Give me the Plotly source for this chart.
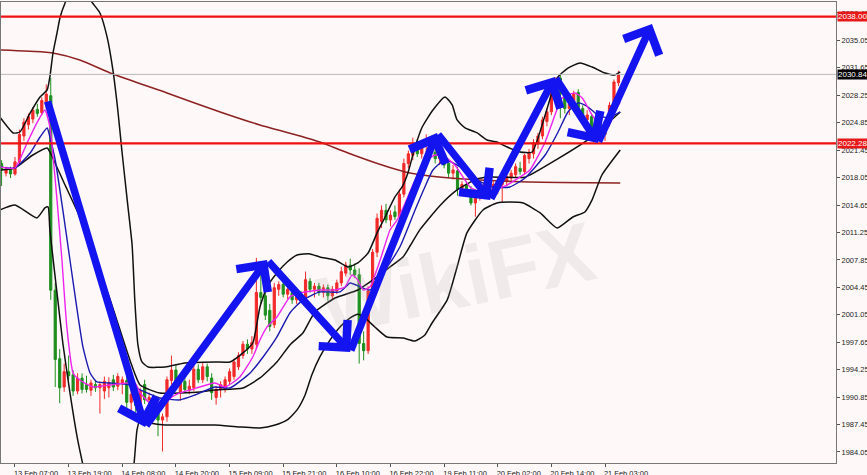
import plotly.graph_objects as go

# ---------------- data ----------------
bar_index = list(range(139))
opens = [2019.8,2018.6,2019.1,2018.5,2020.0,2023.2,2024.6,2025.3,2026.5,2026.1,2027.2,2028.2,2004.1,1995.6,1992.1,1994.0,1993.6,1991.6,1993.2,1992.4,
         1991.7,1992.4,1992.0,1991.6,1992.0,1993.0,1992.2,1992.6,1992.9,1990.2,1991.2,1989.8,1992.4,1990.5,1990.6,1989.3,1988.0,1988.4,1992.9,1994.2,
         1991.4,1992.8,1991.8,1992.0,1994.3,1993.0,1994.6,1993.2,1990.8,1991.8,1991.8,1992.8,1993.4,1994.6,1996.0,1997.4,1996.8,1997.4,2003.8,2003.4,
         2001.6,1999.8,2004.2,2004.8,2003.6,2003.8,2002.9,2003.4,2003.2,2005.2,2004.2,2004.6,2003.8,2004.4,2003.4,2004.0,2005.0,2006.2,2007.2,2006.6,
         2006.0,1997.5,1996.6,2004.0,2008.8,2012.6,2014.0,2012.8,2013.8,2013.2,2016.0,2019.8,2020.8,2022.3,2021.0,2022.0,2022.6,2021.2,2020.4,2020.8,
         2019.8,2018.6,2018.9,2016.6,2017.2,2016.4,2014.9,2016.0,2016.4,2017.2,2016.6,2016.6,2017.2,2017.6,2018.0,2018.4,2019.2,2018.8,2020.4,2021.0,
         2022.2,2023.2,2025.0,2026.2,2028.6,2030.4,2028.4,2026.6,2027.0,2028.6,2026.6,2025.2,2025.6,2024.2,2024.6,2023.4,2024.9,2027.0,2029.8]
highs = [2020.2,2019.4,2019.4,2020.6,2024.0,2025.4,2026.0,2026.8,2027.2,2028.0,2029.6,2030.4,2005.0,1996.8,1995.0,1996.0,1994.2,1993.8,1993.8,1993.5,
         1993.0,1993.0,1992.8,1993.4,1993.3,1993.6,1993.8,1993.4,1993.6,1991.8,1992.2,1992.0,1993.0,1991.4,1991.2,1989.8,1988.8,1993.4,1996.0,1994.8,
         1993.4,1993.6,1993.0,1994.8,1994.9,1995.2,1995.0,1993.8,1992.2,1992.8,1993.4,1994.4,1995.6,1996.4,1997.8,1998.0,1998.4,2008.1,2006.4,2005.6,
         2002.4,2005.0,2005.2,2005.4,2004.6,2004.4,2003.8,2004.0,2006.4,2005.6,2005.0,2005.0,2004.8,2004.8,2004.6,2005.4,2007.0,2007.6,2008.0,2007.4,
         2006.8,1999.0,2004.6,2009.2,2013.6,2014.6,2014.8,2014.0,2014.6,2016.6,2020.4,2021.4,2023.0,2022.8,2022.6,2023.4,2023.2,2022.2,2021.6,2021.2,
         2020.4,2019.6,2019.4,2017.6,2017.6,2017.0,2016.6,2017.0,2017.8,2017.8,2017.6,2018.0,2018.2,2018.6,2019.0,2019.8,2020.0,2021.0,2021.6,2022.8,
         2023.6,2025.6,2026.6,2029.4,2030.5,2030.8,2029.0,2027.8,2028.8,2029.0,2027.0,2026.4,2026.0,2025.0,2025.0,2025.2,2027.4,2030.2,2031.3]
lows = [2017.0,2018.2,2018.0,2018.3,2019.6,2022.6,2024.0,2024.8,2025.6,2025.8,2026.6,2002.9,1992.1,1990.1,1991.5,1993.0,1991.0,1991.2,1991.3,1991.4,
        1991.0,1991.5,1988.8,1990.6,1990.8,1991.6,1991.7,1991.2,1989.5,1988.6,1989.0,1989.2,1990.0,1989.0,1989.0,1986.0,1984.1,1987.8,1992.4,1992.3,
        1990.4,1991.4,1991.2,1991.6,1992.6,1992.6,1992.8,1990.5,1989.9,1990.8,1991.4,1992.4,1993.0,1994.2,1995.6,1996.2,1996.2,1996.8,2002.4,2000.4,
        1999.0,1999.4,2003.4,2003.2,2003.0,2002.4,2002.4,2002.6,2002.8,2003.8,2003.2,2003.4,2003.2,2002.8,2003.0,2003.6,2004.6,2005.8,2006.0,2005.6,
        1995.0,1995.4,1996.2,2003.6,2008.2,2011.8,2012.4,2012.0,2012.8,2012.8,2015.6,2019.2,2020.2,2020.6,2020.4,2021.2,2020.8,2019.8,2019.6,2019.2,
        2018.0,2017.8,2015.8,2016.0,2015.8,2014.6,2013.2,2015.2,2015.8,2016.0,2015.8,2016.0,2015.0,2017.0,2017.4,2018.0,2018.4,2018.4,2019.8,2020.4,
        2021.6,2022.8,2024.4,2025.8,2027.6,2025.4,2026.0,2025.8,2026.4,2025.6,2024.8,2024.6,2023.6,2023.0,2022.8,2022.6,2024.4,2026.6,2029.4]
closes = [2019.0,2019.1,2018.5,2020.0,2023.4,2024.9,2025.6,2026.4,2026.0,2027.6,2028.4,2004.1,1995.5,1992.0,1994.0,1993.5,1991.6,1993.2,1991.8,1991.8,
          1992.6,1992.0,1992.4,1992.8,1992.6,1992.1,1993.4,1993.0,1990.2,1991.2,1989.8,1991.6,1990.5,1990.8,1989.3,1988.0,1988.4,1993.0,1994.2,1992.7,
          1992.8,1991.8,1992.2,1994.3,1993.0,1994.6,1993.4,1991.4,1991.8,1992.4,1993.0,1994.0,1995.2,1996.0,1997.4,1996.8,1997.6,2003.8,2003.2,2001.0,
          1999.6,2004.4,2004.8,2003.6,2004.2,2002.9,2003.4,2003.0,2005.4,2004.2,2004.6,2003.8,2004.4,2003.4,2004.2,2005.0,2006.4,2007.2,2006.6,2006.0,
          1997.5,1996.6,2004.0,2008.8,2013.0,2014.0,2012.8,2013.4,2013.2,2016.0,2019.8,2021.0,2022.3,2021.0,2022.0,2022.6,2021.2,2020.4,2021.0,2019.6,
          2018.6,2019.0,2016.6,2017.2,2016.2,2014.9,2016.0,2016.4,2017.2,2016.6,2017.2,2017.6,2017.8,2018.2,2018.6,2019.4,2018.8,2020.8,2021.2,2022.4,
          2023.2,2025.2,2026.2,2029.0,2029.4,2028.4,2026.6,2027.2,2028.4,2025.9,2025.2,2025.8,2024.2,2024.6,2023.4,2024.9,2027.0,2029.9,2030.84]

tick_bars = [3, 15, 27, 39, 51, 63, 75, 87, 99, 111, 123, 135]
tick_labels = ["13 Feb 07:00", "13 Feb 19:00", "14 Feb 08:00", "14 Feb 20:00",
               "15 Feb 09:00", "15 Feb 21:00", "16 Feb 10:00", "16 Feb 22:00",
               "19 Feb 11:00", "20 Feb 02:00", "20 Feb 14:00", "21 Feb 03:00"]
price_ticks = [1984.05, 1987.45, 1990.85, 1994.25, 1997.65, 2001.05, 2004.45, 2007.85,
               2011.25, 2014.65, 2018.05, 2021.45, 2024.85, 2028.25, 2031.65, 2035.05, 2038.45]

# Bollinger bands (bar, price)
upper_band = [(-0.4,2025.56),(2.6,2023.58),(4.1,2023.70),(6.4,2026.06),(8.6,2028.04),(10.2,2028.91),(10.8,2030.52),
              (11.5,2033.49),(12.4,2035.97),(13.1,2037.95),(14.2,2039.69),(15.8,2041.55),(17.1,2042.17),(18.7,2041.55),
              (20.2,2039.81),(22.0,2038.45),(23.6,2035.48),(24.9,2031.39),(26.0,2026.43),(26.9,2021.47),(28.1,2015.28),
              (29.2,2009.70),(29.8,2002.89),(30.5,1997.31),(31.4,1995.20),(32.8,1994.58),(36.6,1994.58),(41.0,1995.08),
              (47.7,1995.20),(51.1,1995.20),(54.0,1996.32),(56.2,1997.55),(57.8,2002.02),(59.4,2004.50),(61.6,2006.23),
              (63.9,2007.59),(66.1,2008.46),(69.0,2008.59),(71.2,2008.21),(74.6,2007.84),(77.5,2006.97),(79.7,2007.47),
              (82.0,2008.71),(84.0,2011.19),(85.8,2013.17),(88.0,2015.65),(89.6,2016.89),(90.9,2018.62),(92.5,2021.84),
              (94.1,2024.32),(96.5,2026.43),(99.2,2028.04),(100.8,2027.05),(101.9,2025.19),(103.7,2024.20),(106.4,2023.58),
              (108.6,2022.71),(110.8,2022.46),(113.1,2021.84),(116.0,2021.22),(118.7,2021.22),(121.6,2025.81),(124.3,2030.39),
              (126.7,2031.63),(129.4,2032.25),(132.1,2031.76),(135.0,2031.01),(137.2,2030.77),(138.4,2031.14)]
middle_band = [(-0.4,2018.99),(3.0,2019.24),(7.0,2020.85),(10.2,2021.72),(10.8,2021.22),(14.2,2017.13),(17.5,2013.17),
               (24.3,2002.89),(28.7,1995.45),(31.0,1992.35),(35.4,1991.36),(44.4,1991.48),(47.7,1991.73),(54.0,1991.98),
               (57.8,1993.22),(61.6,1995.20),(64.5,1997.31),(67.4,1998.79),(70.1,2001.40),(74.6,2003.13),(79.7,2004.12),
               (84.0,2005.74),(86.9,2006.97),(89.8,2008.20),(91.4,2009.60),(93.6,2011.60),(98.1,2014.60),(101.9,2016.52),
               (106.4,2017.90),(108.6,2018.10),(112.2,2018.10),(117.1,2018.10),(124.5,2020.40),(132.1,2023.10),(138.4,2026.18)]
lower_band = [(-0.4,2014.04),(3.0,2014.66),(7.9,2013.05),(9.7,2014.29),(10.4,2014.41),(10.8,2011.56),(12.4,2003.75),
              (13.7,1997.55),(15.3,1991.36),(16.9,1985.91),(18.2,1982.44),(20.9,1975.90),(23.1,1971.70),(24.9,1970.20),
              (26.9,1974.30),(28.3,1978.60),(29.6,1982.44),(30.3,1986.78),(31.0,1988.02),(33.2,1987.64),(36.6,1987.39),
              (42.6,1987.39),(47.7,1987.39),(53.3,1987.14),(57.8,1987.02),(61.2,1987.39),(63.9,1988.02),(66.1,1989.26),
              (67.9,1991.11),(69.4,1993.59),(71.2,1995.82),(73.5,1997.93),(75.7,1999.54),(78.0,2000.65),(79.7,2001.10),
              (81.3,2000.65),(83.5,1999.54),(86.2,1998.30),(89.8,1998.17),(92.5,1997.80),(94.7,1998.55),(96.3,2000.03),
              (99.7,2002.89),(101.9,2006.97),(104.1,2011.19),(107.7,2014.04),(110.8,2014.90),(113.7,2015.03),(116.7,2014.90),
              (120.5,2013.67),(124.3,2011.81),(127.8,2013.17),(130.5,2013.79),(132.1,2015.28),(134.3,2018.37),(138.4,2021.47)]
fast_ma = [(-0.4,2019.37),(3.0,2019.24),(5.7,2022.34),(7.9,2024.82),(9.7,2026.43),(10.8,2024.32),(12.4,2015.28),
           (13.5,2007.84),(14.6,1999.54),(16.0,1993.84),(17.5,1992.97),(20.5,1992.10),(24.3,1992.35),(29.8,1992.60),
           (31.0,1991.36),(33.2,1990.12),(36.6,1990.12),(38.1,1990.86),(39.9,1991.36),(42.2,1991.73),(47.7,1992.60),
           (50.0,1992.10),(53.3,1993.34),(56.2,1995.82),(57.8,1997.93),(59.4,1999.54),(61.6,2000.78),(64.5,2003.26),
           (66.8,2003.75),(71.2,2004.12),(74.6,2004.12),(76.8,2004.50),(78.4,2005.98),(79.7,2005.36),(80.9,2004.12),
           (82.4,2004.50),(84.7,2007.84),(86.9,2011.56),(88.5,2012.80),(90.3,2014.90),(92.5,2017.75),(94.7,2019.98),
           (97.0,2020.85),(99.2,2020.60),(101.4,2019.61),(104.8,2016.89),(107.0,2016.27),(109.9,2016.52),(113.1,2017.13),
           (116.0,2018.13),(118.2,2018.99),(121.6,2022.46),(123.8,2025.81),(125.4,2027.92),(128.3,2028.54),(129.9,2027.92),
           (132.1,2025.81),(134.3,2024.20),(135.7,2024.32),(137.2,2026.18),(138.4,2027.42)]
slow_ma = [(-0.4,2019.37),(3.0,2019.24),(6.4,2021.10),(8.6,2023.08),(10.2,2024.20),(10.8,2023.08),(12.0,2020.23),
           (13.7,2014.04),(15.3,2007.84),(16.9,2001.65),(18.2,1997.06),(19.8,1993.84),(21.3,1992.72),(24.3,1992.60),
           (28.7,1992.35),(31.0,1991.73),(35.4,1990.74),(39.9,1990.50),(43.3,1991.11),(47.7,1992.10),(51.1,1991.98),
           (55.6,1993.84),(58.5,1995.82),(61.6,1998.30),(64.5,2001.27),(67.4,2002.89),(71.2,2003.88),(75.7,2003.88),
           (78.0,2004.99),(80.2,2004.50),(82.4,2004.12),(85.8,2006.60),(89.1,2009.45),(92.5,2014.04),(94.7,2016.89),
           (96.5,2018.99),(99.2,2020.23),(102.6,2019.37),(106.4,2017.75),(109.9,2016.89),(113.7,2016.89),(117.1,2018.00),
           (121.6,2020.85),(124.5,2023.70),(126.7,2026.18),(129.0,2027.30),(131.2,2026.80),(133.4,2025.81),(135.7,2025.44),
           (138.4,2026.18)]
long_ma = [(-0.4,2033.86),(9.3,2033.62),(11.5,2033.49),(17.5,2032.63),(24.9,2030.89),(37.0,2028.54),(48.9,2026.18),
           (57.8,2024.57),(66.8,2023.21),(71.2,2022.46),(77.5,2021.10),(85.1,2019.61),(90.3,2018.75),(94.1,2018.37),
           (100.3,2018.00),(107.0,2017.75),(118.2,2017.50),(138.4,2017.38)]

# hand-drawn zigzag arrow vertices (bar, price)
arrow_path = [(10.2,2027.67),(32.1,1987.14),(59.4,2007.84),(78.0,1996.44),(97.4,2023.58),
              (109.3,2015.28),(123.8,2030.52),(133.4,2022.34),(145.5,2037.09)]

resistance = 2038.00
support = 2022.28
last_price = 2030.84

# ---------------- styling ----------------
BG = "#FEF9F8"
RED = "#F22A2A"
GREEN = "#1E8F1E"
LINE_RED = "#EE1111"
ARROW_BLUE = "#1414F0"
FONT = "Liberation Sans"

fig = go.Figure()

def add_line(pairs, color, width, smooth=0.6):
    fig.add_trace(go.Scatter(x=[p[0] for p in pairs], y=[p[1] for p in pairs], mode="lines",
                             line=dict(color=color, width=width, shape="spline", smoothing=smooth),
                             hoverinfo="skip"))

add_line(long_ma, "#8E2222", 1.6)
add_line(upper_band, "#111111", 1.5, 0.5)
add_line(middle_band, "#111111", 1.5, 0.5)
add_line(lower_band, "#111111", 1.5, 0.5)

fig.add_trace(go.Candlestick(
    x=bar_index, open=opens, high=highs, low=lows, close=closes,
    increasing=dict(line=dict(color=RED, width=1), fillcolor=RED),
    decreasing=dict(line=dict(color=GREEN, width=1), fillcolor=GREEN),
    whiskerwidth=0, hoverinfo="skip"))

add_line(slow_ma, "#1A1AB0", 1.4, 0.5)
add_line(fast_ma, "#EE22EE", 1.4, 0.5)

shapes = []
for level, col, w in [(last_price, "#B8B8B8", 1), (resistance, LINE_RED, 2.2), (support, LINE_RED, 2.2)]:
    shapes.append(dict(type="line", xref="paper", x0=0, x1=1, yref="y", y0=level, y1=level,
                       line=dict(color=col, width=w), layer="above"))

annotations = []
# watermark
annotations.append(dict(text="<b>WikiFX</b>", xref="paper", yref="paper", x=0.545, y=0.40,
                        showarrow=False, textangle=-12,
                        font=dict(family="Liberation Sans", size=84, color="rgba(170,160,160,0.16)")))
# zig-zag arrows
for (a, b) in zip(arrow_path[:-1], arrow_path[1:]):
    annotations.append(dict(x=b[0], y=b[1], ax=a[0], ay=a[1], xref="x", yref="y", axref="x", ayref="y",
                            text="", showarrow=True, arrowhead=4, arrowsize=1.0, arrowwidth=7.5,
                            arrowcolor=ARROW_BLUE, standoff=0, startstandoff=0))
# price tags on the right axis
for level, bg in [(resistance, "#E81818"), (last_price, "#000000"), (support, "#E81818")]:
    annotations.append(dict(text=f"{level:.2f}", xref="paper", yref="y", x=1, y=level, xanchor="left",
                            yanchor="middle", showarrow=False, bgcolor=bg, borderpad=0, xshift=1,
                            font=dict(family=FONT, size=8, color="white")))

fig.update_layout(
    width=867, height=475, margin=dict(l=1, r=31, t=2, b=12),
    paper_bgcolor=BG, plot_bgcolor=BG, showlegend=False,
    shapes=shapes, annotations=annotations,
    font=dict(family=FONT, size=7.5, color="#222222"),
    xaxis=dict(range=[-0.13, 186.67], tickvals=tick_bars, ticktext=tick_labels,
               ticks="outside", ticklen=3, tickcolor="#555555", showgrid=False, zeroline=False,
               showline=True, linecolor="#777777", linewidth=1, mirror=True,
               rangeslider=dict(visible=False), automargin=False, ticklabelshift=21,
               tickfont=dict(family=FONT, size=7.5, color="#222222")),
    yaxis=dict(side="right", range=[1982.68, 2039.81], tickvals=price_ticks, tickformat=".2f",
               ticks="outside", ticklen=3, tickcolor="#555555", showgrid=False, zeroline=False,
               showline=True, linecolor="#777777", linewidth=1, mirror=True, automargin=False,
               tickfont=dict(family=FONT, size=7.5, color="#222222")),
)

fig.write_html("out.html", config={"displayModeBar": False},
               post_script="document.body.style.margin='0';document.body.style.overflow='hidden';")
